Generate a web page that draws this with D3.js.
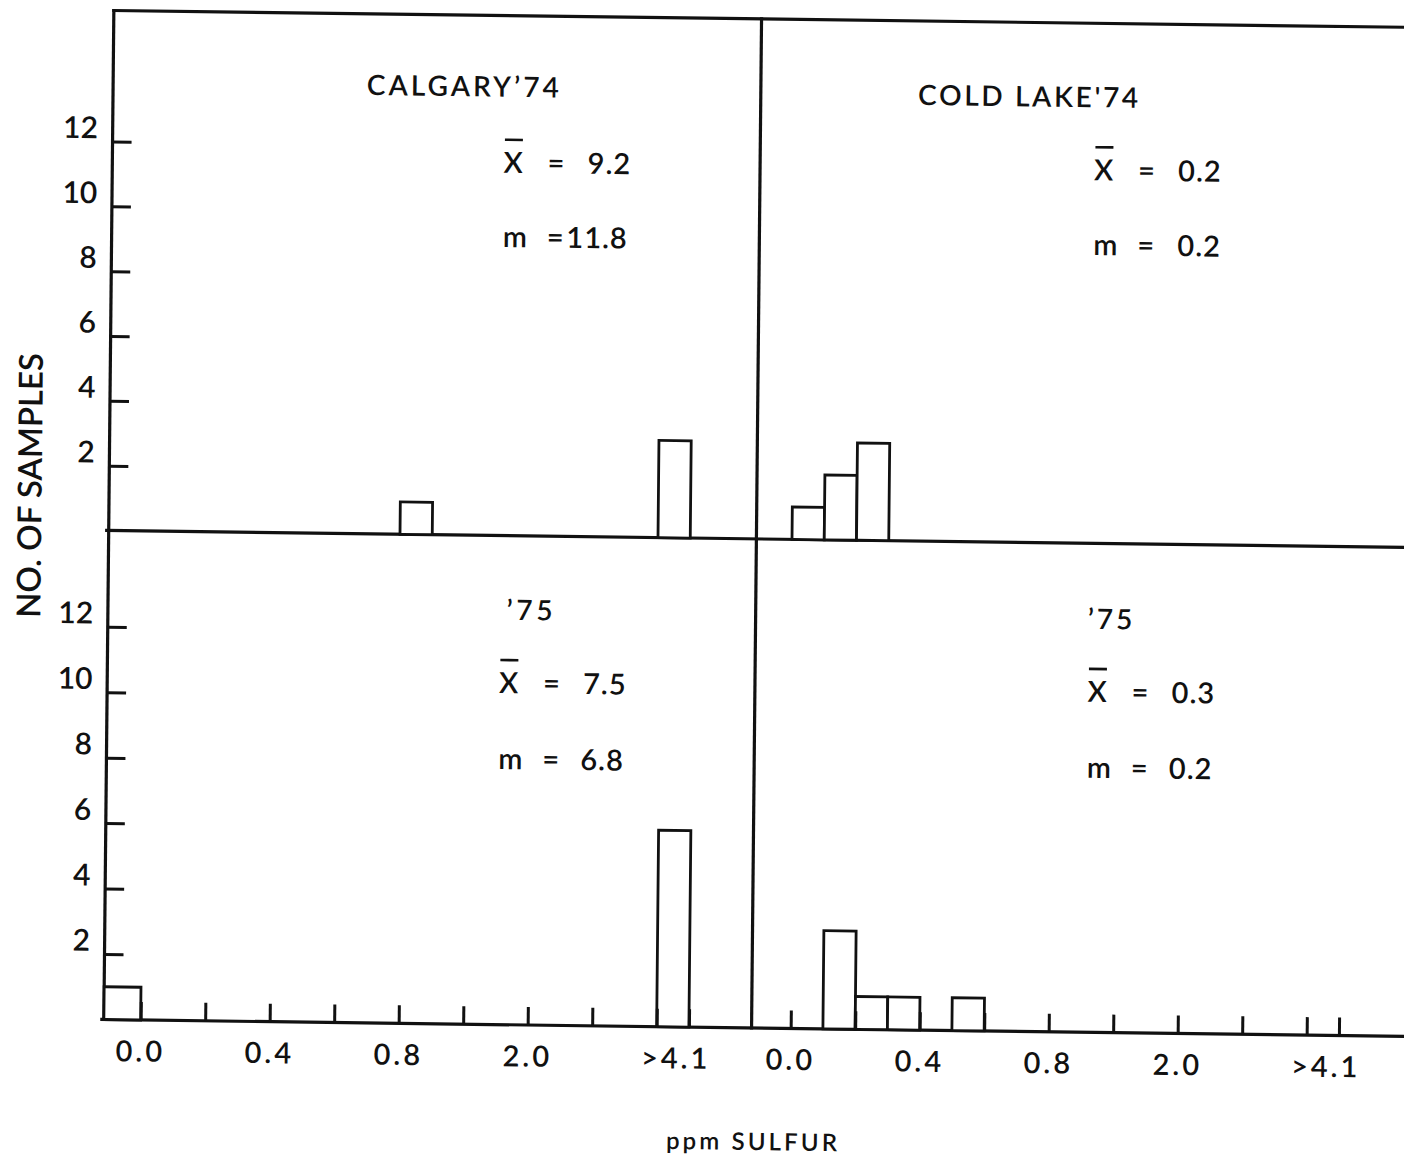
<!DOCTYPE html>
<html>
<head>
<meta charset="utf-8">
<script src="https://cdn.jsdelivr.net/npm/d3@7"></script>
<style>
  html, body { margin: 0; padding: 0; background: #fff; }
  svg { display: block; }
  text { font-family: Lato, "Open Sans", sans-serif; font-weight: 600; fill: #111; }
</style>
</head>
<body>
<svg id="chart" width="1404" height="1165"></svg>
<script>
// Histograms of sulfur content (ppm) in samples: Calgary and Cold Lake, 1974 and 1975

const panelTitles = ["CALGARY\u201974", "COLD LAKE'74", "\u201975", "\u201975"];
const meanValues = ["9.2", "0.2", "7.5", "0.3"];
const medianValues = ["11.8", "0.2", "6.8", "0.2"];

// Bars: left edge in axis units (one unit per tick interval; each class is half a unit wide)
const calgary74Start = [4, 8];
const calgary74Count = [1, 3];
const coldLake74Start = [0, 0.5, 1];
const coldLake74Count = [1, 2, 3];
const calgary75Start = [-0.5, 8];
const calgary75Count = [1, 6];
const coldLake75Start = [0.5, 1, 1.5, 2.5];
const coldLake75Count = [3, 1, 1, 1];

const yTicks = [2, 4, 6, 8, 10, 12];
const xTickMarks = [0, 1, 2, 3, 4, 5, 6, 7, 8, 8.5];
const xTickLabels = ["0.0", "0.4", "0.8", "2.0", ">4.1"];
const xTickLabelAt = [0, 2, 4, 6, 8.3];

// ---- layout ----
const ink = "#111";
const axisX = 108.7, midX = 756.4, rightEnd = 1425;
const topY = 10.5, midY = 530.5, botY = 1019.5;
const unit = 64.5, classWidth = 0.5;

const panels = [
  { title: panelTitles[0], start: calgary74Start, count: calgary74Count, mean: meanValues[0], median: medianValues[0],
    x0: 142, base: midY, y12: 141.5, titleX: 362.4, titleY: 91.6, titleLen: 192,
    statX: 500, meanY: 167.6, medianY: 241.8, medianGap: 63.5, hasYAxis: true, hasXAxis: false },
  { title: panelTitles[1], start: coldLake74Start, count: coldLake74Count, mean: meanValues[1], median: medianValues[1],
    x0: 792, base: midY, y12: 141.5, titleX: 913.8, titleY: 94.5, titleLen: 220,
    statX: 1090.5, meanY: 167.4, medianY: 242.2, medianGap: 84, hasYAxis: false, hasXAxis: false },
  { title: panelTitles[2], start: calgary75Start, count: calgary75Count, mean: meanValues[2], median: medianValues[2],
    x0: 145.5, base: botY, y12: 626.7, titleX: 507.4, titleY: 614.8, titleLen: 46,
    statX: 500.6, meanY: 687.9, medianY: 763.9, medianGap: 82, hasYAxis: true, hasXAxis: true },
  { title: panelTitles[3], start: coldLake75Start, count: coldLake75Count, mean: meanValues[3], median: medianValues[3],
    x0: 795.5, base: botY, y12: 626.7, titleX: 1088.5, titleY: 616.1, titleLen: 44.5,
    statX: 1089.2, meanY: 689.1, medianY: 764.9, medianGap: 82, hasYAxis: false, hasXAxis: true }
];

const svg = d3.select("#chart");
svg.append("rect").attr("width", 1404).attr("height", 1165).attr("fill", "#fff");

// the printed sheet sits slightly askew
const g = svg.append("g")
  .attr("transform", `translate(${axisX},${midY}) matrix(1,0.013,-0.0099,1,0,0) translate(${-axisX},${-midY})`);

// frame: left axis, top rule, middle rule, bottom baseline, centre divider
const frame = [
  [axisX, topY, axisX, botY],
  [axisX, topY, rightEnd, topY],
  [axisX - 2, midY, rightEnd, midY],
  [axisX - 2, botY, rightEnd, botY],
  [midX, topY, midX, botY]
];
g.append("g").selectAll("line").data(frame).join("line")
  .attr("x1", d => d[0]).attr("y1", d => d[1]).attr("x2", d => d[2]).attr("y2", d => d[3])
  .attr("stroke", ink).attr("stroke-width", 3.2).attr("stroke-linecap", "square");

panels.forEach(p => {
  const x = d3.scaleLinear().domain([0, 8.5]).range([p.x0, p.x0 + unit * 8.5]);
  const y = d3.scaleLinear().domain([0, 12]).range([p.base, p.y12]);
  const pg = g.append("g");

  // histogram bars (the class below 0.0 is drawn from the axis)
  const bars = p.start.map((s, i) => ({ s, n: p.count[i] }));
  pg.append("g").selectAll("rect").data(bars).join("rect")
    .attr("x", d => d.s < 0 ? axisX : x(d.s))
    .attr("width", d => x(d.s + classWidth) - (d.s < 0 ? axisX : x(d.s)))
    .attr("y", d => y(d.n))
    .attr("height", d => y(0) - y(d.n))
    .attr("fill", "#fff").attr("stroke", ink).attr("stroke-width", 2.8);

  // y axis ticks and labels
  if (p.hasYAxis) {
    const ay = d3.axisLeft(y).tickValues(yTicks).tickSize(-19).tickPadding(14.7);
    const yg = pg.append("g").attr("transform", `translate(${axisX},0)`).call(ay);
    yg.select(".domain").remove();
    yg.attr("font-family", null).attr("font-size", 30).style("color", ink);
    yg.selectAll("line").attr("stroke-width", 3);
    yg.selectAll("text").attr("dy", -3.5);
  }

  // x axis ticks and labels
  if (p.hasXAxis) {
    const ax = d3.axisBottom(x).tickValues(xTickMarks).tickSize(-18).tickFormat("");
    const xg = pg.append("g").attr("transform", `translate(0,${p.base})`).call(ax);
    xg.select(".domain").remove();
    xg.style("color", ink);
    xg.selectAll("line").attr("stroke-width", 3);
    pg.append("g").selectAll("text").data(xTickLabels).join("text")
      .attr("x", (d, i) => x(xTickLabelAt[i]))
      .attr("y", p.base + 41.5)
      .attr("text-anchor", "middle")
      .attr("font-size", 29)
      .attr("letter-spacing", 3)
      .text(d => d);
  }

  // panel title
  pg.append("text")
    .attr("x", p.titleX).attr("y", p.titleY)
    .attr("font-size", 28)
    .attr("textLength", p.titleLen)
    .attr("lengthAdjust", "spacing")
    .text(p.title);

  // mean (X with overbar) and median lines
  const sg = pg.append("g").attr("font-size", 29);
  sg.append("text").attr("x", p.statX).attr("y", p.meanY).text("X");
  sg.append("line")
    .attr("x1", p.statX + 1).attr("x2", p.statX + 19)
    .attr("y1", p.meanY - 33).attr("y2", p.meanY - 33)
    .attr("stroke", ink).attr("stroke-width", 2.6);
  sg.append("text").attr("x", p.statX + 44).attr("y", p.meanY).text("=");
  sg.append("text").attr("x", p.statX + 84).attr("y", p.meanY).attr("letter-spacing", 1).text(p.mean);

  sg.append("text").attr("x", p.statX).attr("y", p.medianY).text("m");
  sg.append("text").attr("x", p.statX + 44).attr("y", p.medianY).text("=");
  sg.append("text").attr("x", p.statX + p.medianGap).attr("y", p.medianY).attr("letter-spacing", 1).text(p.median);
});

// axis titles
g.append("text")
  .attr("transform", "translate(41.2,486.5) rotate(-90)")
  .attr("text-anchor", "middle")
  .attr("font-size", 33)
  .attr("textLength", 265)
  .attr("lengthAdjust", "spacing")
  .text("NO. OF SAMPLES");

g.append("text")
  .attr("x", 672).attr("y", 1141.6)
  .attr("font-size", 24)
  .attr("textLength", 171)
  .attr("lengthAdjust", "spacing")
  .text("ppm SULFUR");
</script>
</body>
</html>
